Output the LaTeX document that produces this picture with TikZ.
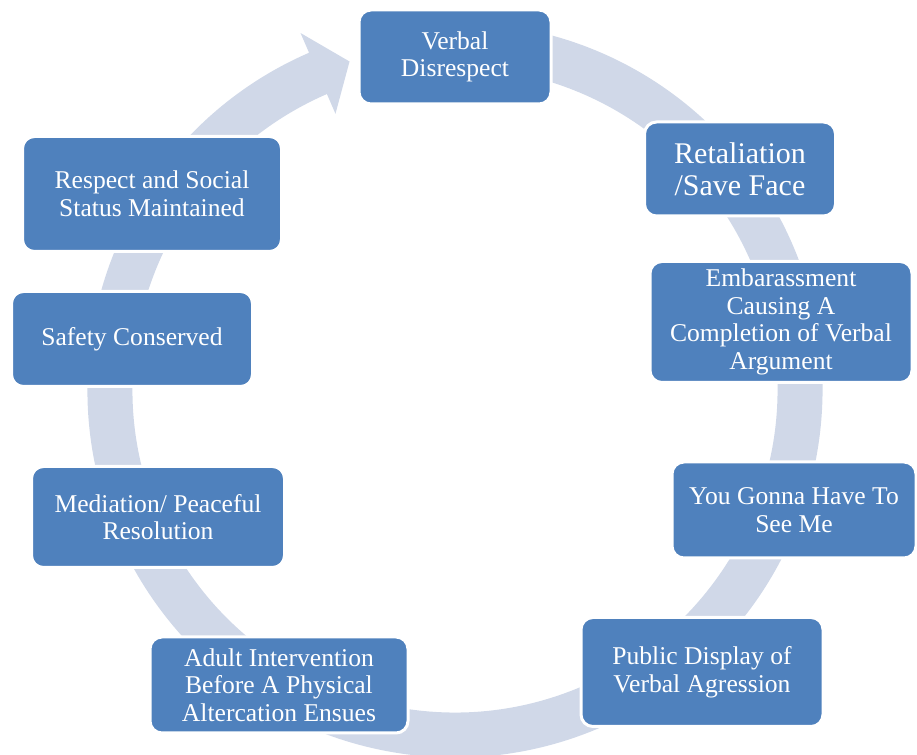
\documentclass[tikz,border=0pt]{standalone}
\usepackage{fontspec}
\setmainfont{Liberation Serif}
\definecolor{boxblue}{RGB}{79,129,189}
\definecolor{ringgray}{RGB}{208,216,232}
\begin{document}
\begin{tikzpicture}[x=0.5pt, y=0.5pt,
  stage/.style={draw=white, line width=1.5pt, fill=boxblue, rounded corners=6pt,
    text=white, align=center, inner sep=2pt, font=\fontsize{12.8}{13.8}\selectfont},
  bigstage/.style={stage, font=\fontsize{15}{16}\selectfont}]
\useasboundingbox (0,0) rectangle (917,755); % page
% ring arrow, clockwise, head ends at the first box
\begin{scope}[shift={(455,365)}]
\fill[ringgray] (80:367.5) arc[start angle=80, end angle=-246.6, radius=367.5] -- (-246.6:389) -- (-252.2:345) -- (-246.6:301) -- (-246.6:322.5) arc[start angle=-246.6, end angle=80, radius=322.5] -- cycle; % ring with head
\end{scope}
% stages
\node[stage, minimum width=96pt, minimum height=47pt] (disrespect) at (455,698) {Verbal\\Disrespect};
\node[bigstage, minimum width=95.5pt, minimum height=47pt] (retaliation) at (740,586) {Retaliation\\/Save Face};
\node[stage, minimum width=131pt, minimum height=60.5pt] (embarass) at (781,433) {Embarassment\\Causing A\\Completion of Verbal\\Argument};
\node[stage, minimum width=122pt, minimum height=48pt] (seeme) at (794,245) {You Gonna Have To\\See Me};
\node[stage, minimum width=121pt, minimum height=54.5pt] (display) at (702,83) {Public Display of\\Verbal Agression};
\node[stage, minimum width=129pt, minimum height=48pt] (adult) at (279,70) {Adult Intervention\\Before A Physical\\Altercation Ensues};
\node[stage, minimum width=126.5pt, minimum height=50.5pt] (mediation) at (158,238) {Mediation/ Peaceful\\Resolution};
\node[stage, minimum width=120.5pt, minimum height=47.5pt] (safety) at (132,416) {Safety Conserved};
\node[stage, minimum width=129.5pt, minimum height=57.5pt] (respect) at (152,561) {Respect and Social\\Status Maintained};
\end{tikzpicture}
\end{document}
